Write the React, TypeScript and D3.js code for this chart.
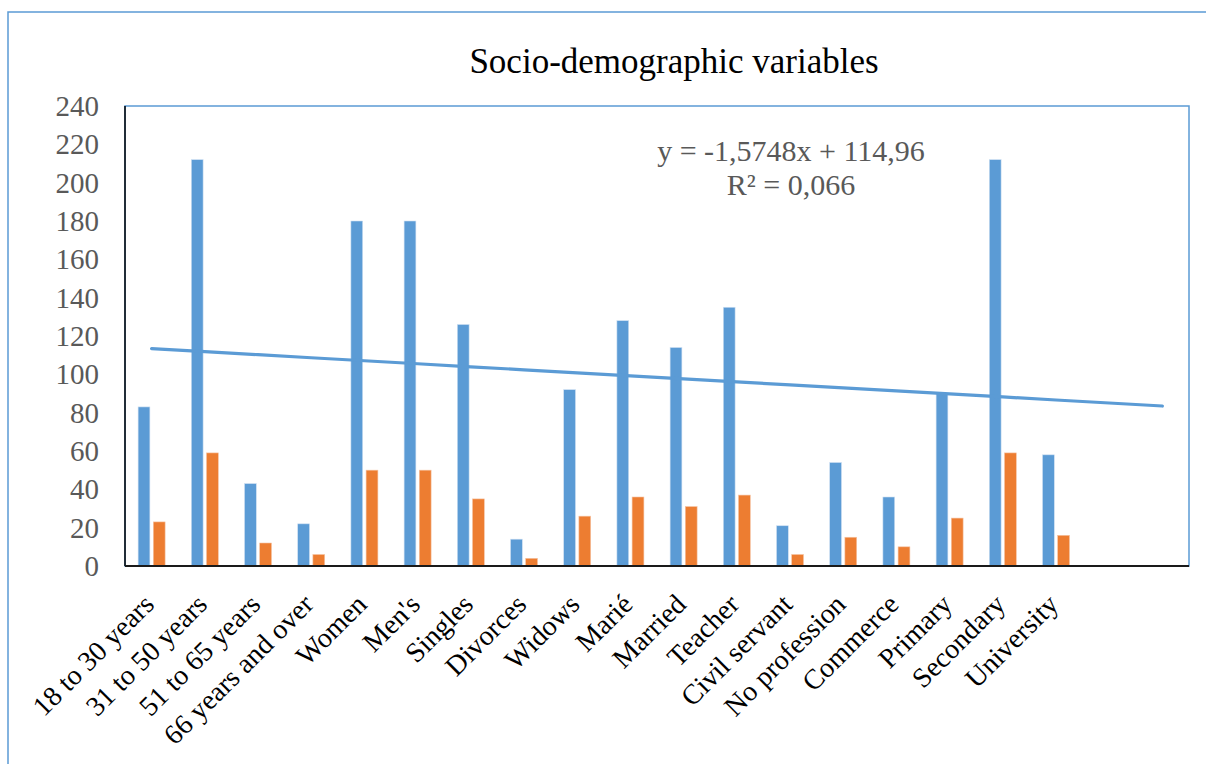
import React from "react";
import * as d3 from "d3";

const categories: string[] = [
  "18 to 30 years", "31 to 50 years", "51 to 65 years", "66 years and over",
  "Women", "Men's", "Singles", "Divorces", "Widows", "Marié", "Married",
  "Teacher", "Civil servant", "No profession", "Commerce", "Primary",
  "Secondary", "University", "", "",
];
const seriesBlue: (number | null)[] = [83, 212, 43, 22, 180, 180, 126, 14, 92, 128, 114, 135, 21, 54, 36, 90, 212, 58, null, null];
const seriesOrange: (number | null)[] = [23, 59, 12, 6, 50, 50, 35, 4, 26, 36, 31, 37, 6, 15, 10, 25, 59, 16, null, null];
const yTicks: number[] = [0, 20, 40, 60, 80, 100, 120, 140, 160, 180, 200, 220, 240];
const title = "Socio-demographic variables";
const eqLine1 = "y = -1,5748x + 114,96";
const eqLine2 = "R² = 0,066";

const BLUE = "#5B9BD5";
const ORANGE = "#ED7D31";
const FONT = "'Liberation Serif', 'Times New Roman', serif";

export default function App() {
  const W = 1206, H = 764;
  const left = 125, right = 1189, top = 106, bottom = 566;

  const x = d3.scaleBand<string>()
    .domain(categories.map((_, i) => String(i)))
    .range([left, right])
    .paddingInner(0)
    .paddingOuter(0);
  const y = d3.scaleLinear().domain([0, 240]).range([bottom, top]);
  const bw = x.bandwidth();
  const barW = 11.8;
  const gap = 3.4;

  // linear regression on blue series
  const pts = seriesBlue
    .map((v, i) => (v == null ? null : [i + 1, v] as [number, number]))
    .filter((p): p is [number, number] => p !== null);
  const mx = d3.mean(pts, (p) => p[0])!;
  const my = d3.mean(pts, (p) => p[1])!;
  const sxy = d3.sum(pts, (p) => (p[0] - mx) * (p[1] - my));
  const sxx = d3.sum(pts, (p) => (p[0] - mx) ** 2);
  const slope = sxy / sxx;
  const intercept = my - slope * mx;
  const trendX = [1, categories.length];
  const line = d3.line<number>()
    .x((k) => x(String(k - 1))! + bw / 2)
    .y((k) => y(intercept + slope * k));

  return (
    <svg
      width={W}
      height={H}
      style={{ position: "absolute", left: 0, top: 0, background: "#fff" }}
      fontFamily={FONT}
    >
      <rect x={0} y={0} width={W} height={H} fill="#fff" />
      {/* chart area border */}
      <rect x={8} y={12} width={W + 20} height={H + 20} fill="none" stroke={BLUE} strokeWidth={1.5} />
      <text x={674} y={73} textAnchor="middle" fontSize={35} fill="#000">{title}</text>

      {/* plot area border */}
      <rect x={left} y={top} width={right - left} height={bottom - top} fill="none" stroke={BLUE} strokeWidth={1.5} />

      {/* y tick labels */}
      {yTicks.map((t) => (
        <text key={t} x={99} y={y(t)} dy="0.35em" textAnchor="end" fontSize={29} fill="#595959">
          {t}
        </text>
      ))}

      {/* bars */}
      {categories.map((c, i) => {
        const cx = x(String(i))! + bw / 2;
        const b = seriesBlue[i];
        const o = seriesOrange[i];
        return (
          <g key={i}>
            {b != null && (
              <rect x={cx - gap / 2 - barW} y={y(b)} width={barW} height={y(0) - y(b)} fill={BLUE} stroke="#cfe0f2" strokeWidth={0.6} />
            )}
            {o != null && (
              <rect x={cx + gap / 2} y={y(o)} width={barW} height={y(0) - y(o)} fill={ORANGE} stroke="#f6c3a3" strokeWidth={0.6} />
            )}
          </g>
        );
      })}

      {/* trendline */}
      <path d={line(d3.range(trendX[0], trendX[1] + 1))!} fill="none" stroke={BLUE} strokeWidth={3.2} strokeLinecap="round" />

      {/* equation */}
      <text x={791} y={161} textAnchor="middle" fontSize={30} fill="#595959">{eqLine1}</text>
      <text x={791} y={195} textAnchor="middle" fontSize={30} fill="#595959">{eqLine2}</text>

      {/* axes */}
      <line x1={left} y1={top} x2={left} y2={bottom} stroke="#000" strokeWidth={1.5} />
      <line x1={left} y1={bottom} x2={right} y2={bottom} stroke="#1a1a1a" strokeWidth={2} />

      {/* x labels */}
      {categories.map((c, i) =>
        c ? (
          <text
            key={"l" + i}
            transform={`translate(${x(String(i))! + bw / 2 + 4},${bottom + 40}) rotate(-45)`}
            textAnchor="end"
            fontSize={28}
            fill="#000"
          >
            {c}
          </text>
        ) : null
      )}
    </svg>
  );
}
